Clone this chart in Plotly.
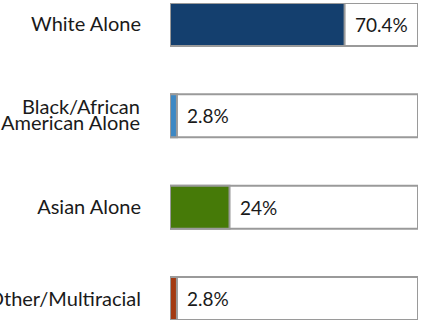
import plotly.graph_objects as go

categories = ["White Alone", "Black/African American Alone", "Asian Alone", "Other/Multiracial"]
tick_labels = ["White Alone", "", "Asian Alone", "Other/Multiracial"]
split_label = ["Black/African", "American Alone"]
values = [70.4, 2.8, 24, 2.8]
value_labels = ["70.4%", "2.8%", "24%", "2.8%"]
colors = ["#143F6E", "#3D88C4", "#467A08", "#A33A12"]
full = [100, 100, 100, 100]

FONT = "Lato"
TXT = "#1a1a1a"
fig = go.Figure()
fig.add_trace(go.Bar(
    y=categories, x=full, orientation="h", width=0.47, cliponaxis=False,
    marker=dict(color="white", line=dict(color="#9A9A9A", width=2)),
    hoverinfo="skip", showlegend=False,
))
fig.add_trace(go.Bar(
    y=categories, x=values, orientation="h", width=0.47, cliponaxis=False,
    marker=dict(color=colors, line=dict(color="#9A9A9A", width=2)),
    showlegend=False,
))
for c, v, t in zip(categories, values, value_labels):
    fig.add_annotation(x=v, y=c, text=t, showarrow=False, xanchor="left",
                       xshift=8, font=dict(family=FONT, size=19, color=TXT))

# two-line category label with tight line spacing
for line, ys in zip(split_label, [10, -6.5]):
    fig.add_annotation(xref="paper", x=0, y=categories[1], text=line,
                       showarrow=False, xanchor="right", xshift=-30,
                       yshift=ys, borderpad=0, borderwidth=0,
                       font=dict(family=FONT, size=20, color=TXT))

fig.update_layout(
    width=425, height=325,
    margin=dict(l=170, r=7, t=3, b=5, autoexpand=False),
    barmode="overlay",
    plot_bgcolor="white", paper_bgcolor="white",
    xaxis=dict(range=[0, 100], visible=False, fixedrange=True),
    yaxis=dict(type="category", categoryarray=categories,
               tickmode="array", tickvals=categories, ticktext=tick_labels,
               range=[3.235, -0.235], showgrid=False, zeroline=False,
               showline=False, ticks="", ticklabelstandoff=28,
               tickfont=dict(family=FONT, size=20, color=TXT),
               automargin=False, fixedrange=True),
)
fig.write_html("out.html", config={"displayModeBar": False},
               post_script="document.body.style.margin='0';")
